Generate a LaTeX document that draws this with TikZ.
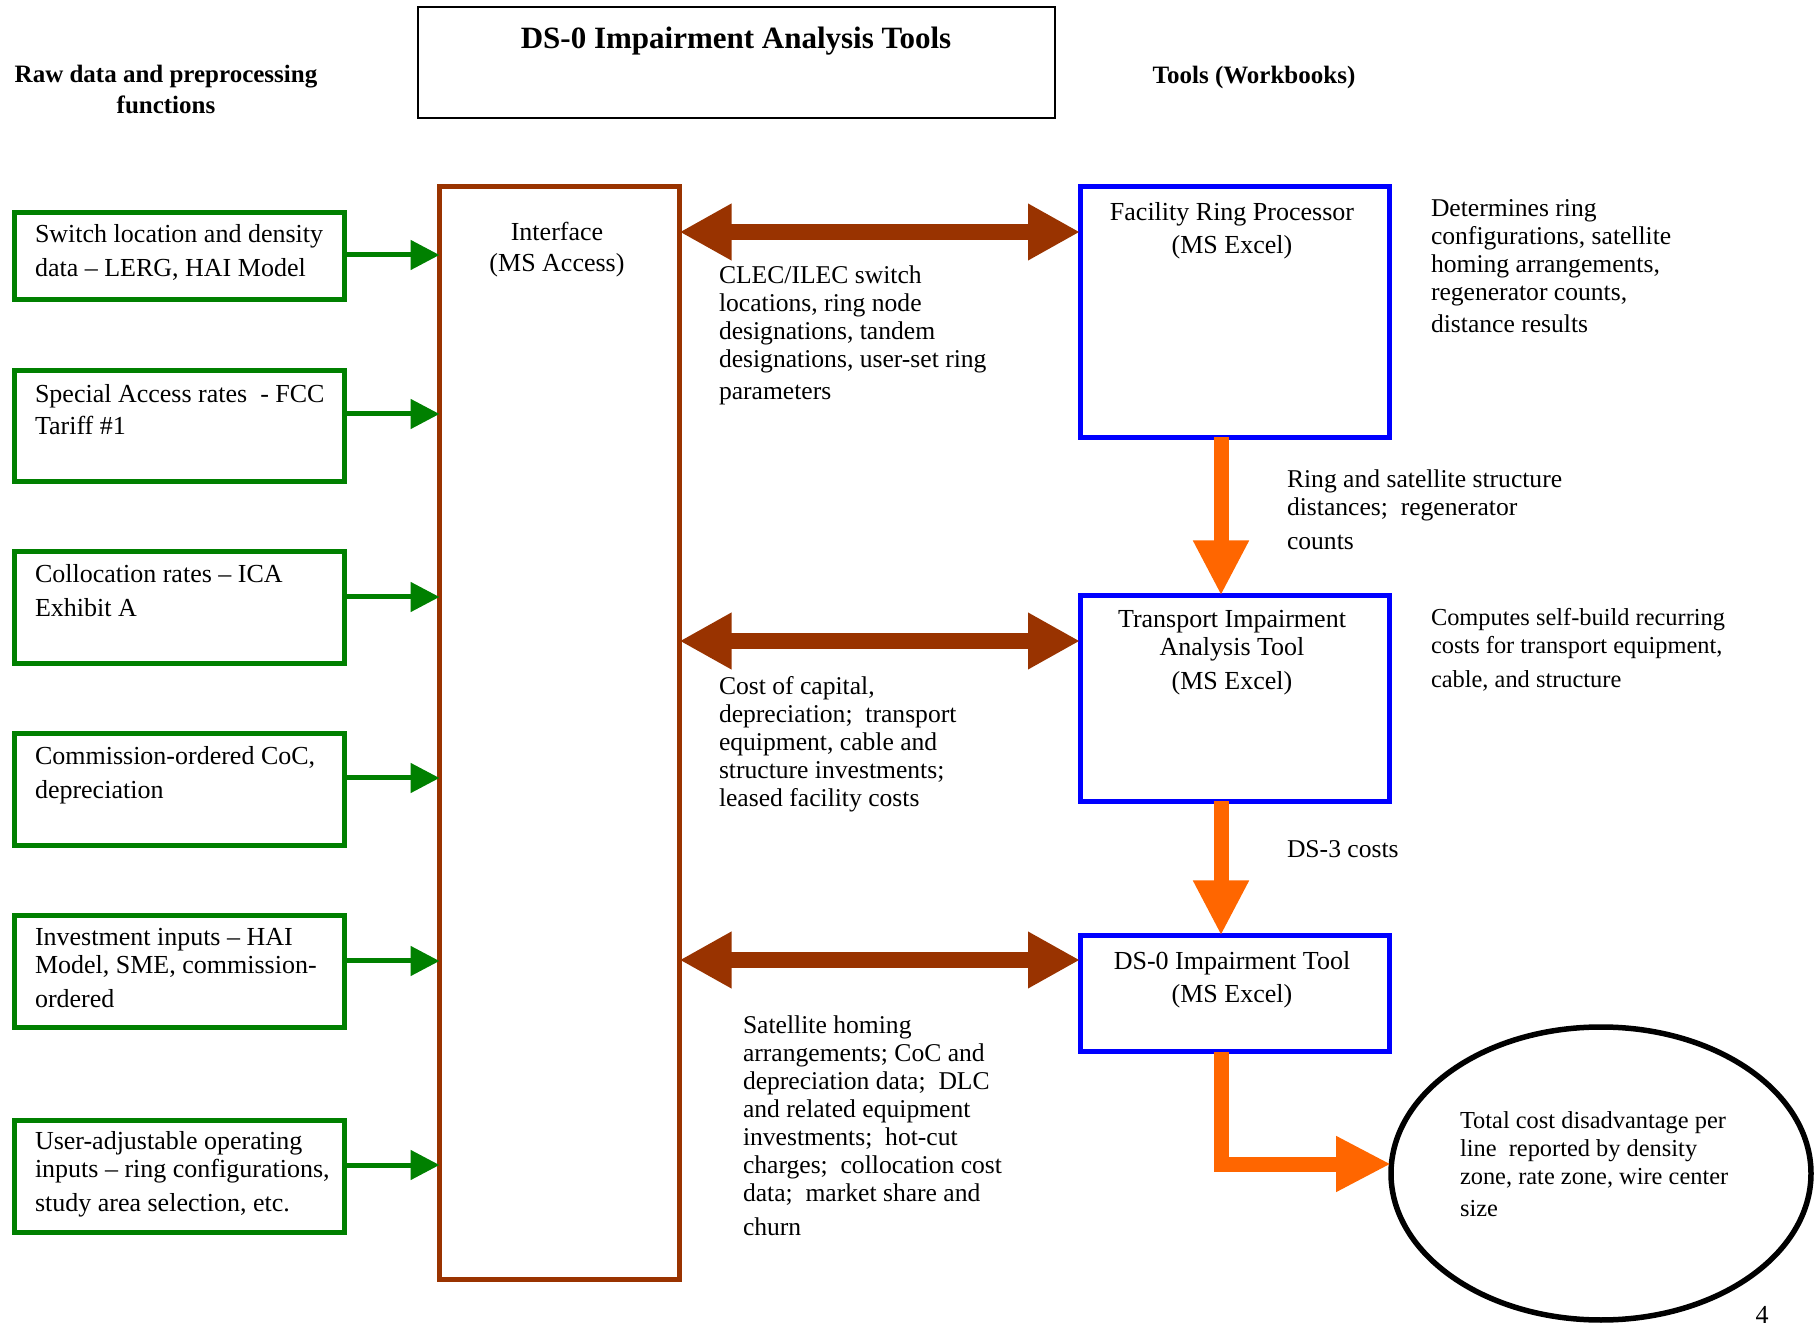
\documentclass[tikz,border=0pt]{standalone}
\usepackage{fontspec}
\setmainfont{Liberation Serif}
\usetikzlibrary{arrows.meta,calc,shapes.geometric}
\definecolor{grn}{RGB}{0,128,0}
\definecolor{brn}{RGB}{153,51,0}
\definecolor{blu}{RGB}{0,0,255}
\definecolor{org}{RGB}{255,102,0}
\begin{document}
\begin{tikzpicture}[x=0.5pt,y=-0.5pt,
  every node/.style={inner sep=0pt, outer sep=0pt},
  gbox/.style={draw=grn, line width=2.5pt, minimum width=165pt},
  bbox/.style={draw=blu, line width=2.5pt, minimum width=154.5pt},
  txt/.style={anchor=north west, align=left, font=\fontsize{13pt}{14pt}\selectfont},
  stxt/.style={anchor=north west, align=left, font=\fontsize{12.8pt}{14pt}\selectfont},
  ntxt/.style={anchor=north west, align=left, font=\fontsize{12.2pt}{14pt}\selectfont},
  ctxt/.style={anchor=north, align=center, font=\fontsize{13pt}{14pt}\selectfont},
  hdr/.style={font=\bfseries\fontsize{12.5pt}{15.5pt}\selectfont},
  garrow/.style={draw=grn, line width=2.5pt, -{Triangle[length=14.5pt,width=14.5pt]}},
  barrow/.style={draw=brn, line width=8pt, {Triangle[length=26pt,width=26.5pt]}-{Triangle[length=26pt,width=26.5pt]}},
  oarrow/.style={draw=org, line width=7.5pt, line join=miter, -{Triangle[length=27.5pt,width=26pt]}},
]
\useasboundingbox (0,0) rectangle (1816,1325);

% title and headers
\node[draw, line width=1pt, minimum width=318.5pt, minimum height=55.5pt] (title) at (736.5,62.5) {};
\node[anchor=base, font=\bfseries\fontsize{15.5pt}{18pt}\selectfont] (titletxt) at (736,49) {DS-0 Impairment Analysis Tools};
\node[hdr, anchor=north, align=center] (hleft) at (166,65) {Raw data and preprocessing\\functions};
\node[hdr, anchor=base] (hright) at (1254,84) {Tools (Workbooks)};

% green input boxes
\node[gbox, minimum height=43.5pt] (g1) at (179.5,256) {};
\node[gbox, minimum height=55.5pt] (g2) at (179.5,426) {};
\node[gbox, minimum height=56pt] (g3) at (179.5,607.5) {};
\node[gbox, minimum height=56pt] (g4) at (179.5,789.5) {};
\node[gbox, minimum height=56pt] (g5) at (179.5,971.5) {};
\node[gbox, minimum height=56pt] (g6) at (179.5,1176.5) {};

\node[txt] (g1t) at (35,224) {Switch location and density\\[3pt]data – LERG, HAI Model};
\node[txt] (g2t) at (35,384) {Special Access rates\ \ - FCC\\[2pt]Tariff \#1};
\node[txt] (g3t) at (35,564) {Collocation rates – ICA\\[3pt]Exhibit A};
\node[txt] (g4t) at (35,746) {Commission-ordered CoC,\\[3pt]depreciation};
\node[txt] (g5t) at (35,928) {Investment inputs – HAI\\Model, SME, commission-\\[3pt]ordered};
\node[txt] (g6t) at (35,1131) {User-adjustable operating\\inputs – ring configurations,\\[3pt]study area selection, etc.};

% interface
\node[draw=brn, line width=2.5pt, minimum width=120pt, minimum height=546.5pt] (iface) at (559.5,733) {};
\node[ctxt] (ifacet) at (557,222) {Interface\\[1.5pt](MS Access)};

% tool boxes
\node[bbox, minimum height=125.5pt] (frp) at (1234.5,312) {};
\node[bbox, minimum height=103pt] (tiat) at (1234.5,698.5) {};
\node[bbox, minimum height=58pt] (dso) at (1234.5,993.5) {};
\node[ctxt] (frpt) at (1232,202) {Facility Ring Processor\\[2.5pt](MS Excel)};
\node[ctxt] (tiatt) at (1232,610) {Transport Impairment\\Analysis Tool\\[3pt](MS Excel)};
\node[ctxt] (dsot) at (1232,951) {DS-0 Impairment Tool\\[2.5pt](MS Excel)};

% result ellipse
\node[draw, ellipse, line width=2.75pt, minimum width=210pt, minimum height=146.5pt] (ell) at (1601,1173.5) {};
\node[ntxt] (ellt) at (1460,1112) {Total cost disadvantage per\\line\ \ reported by density\\zone, rate zone, wire center\\[2pt]size};

% side texts
\node[stxt] (clec) at (719,266) {CLEC/ILEC switch\\locations, ring node\\designations, tandem\\designations, user-set ring\\[2pt]parameters};
\node[stxt] (det) at (1431,200) {Determines ring\\configurations, satellite\\homing arrangements,\\regenerator counts,\\[2pt]distance results};
\node[stxt] (ring) at (1287,470) {Ring and satellite structure\\distances;\ \ regenerator\\[3pt]counts};
\node[ntxt] (comp) at (1431,608) {Computes self-build recurring\\costs for transport equipment,\\[3pt]cable, and structure};
\node[stxt] (cost) at (719,676) {Cost of capital,\\depreciation;\ \ transport\\equipment, cable and\\structure investments;\\leased facility costs};
\node[stxt, anchor=base west] (ds3) at (1287,858) {DS-3 costs};
\node[stxt] (sat) at (743,1016) {Satellite homing\\arrangements; CoC and\\depreciation data;\ \ DLC\\and related equipment\\investments;\ \ hot-cut\\charges;\ \ collocation cost\\data;\ \ market share and\\[3pt]churn};
\node[anchor=base, font=\fontsize{13pt}{14pt}\selectfont] (pnum) at (1762,1323) {4};

% connectors
\draw[garrow] (g1.east |- 0,255) -- (iface.west |- 0,255);
\draw[garrow] (g2.east |- 0,414) -- (iface.west |- 0,414);
\draw[garrow] (g3.east |- 0,597) -- (iface.west |- 0,597);
\draw[garrow] (g4.east |- 0,778) -- (iface.west |- 0,778);
\draw[garrow] (g5.east |- 0,961) -- (iface.west |- 0,961);
\draw[garrow] (g6.east |- 0,1165) -- (iface.west |- 0,1165);

\draw[barrow] (iface.east |- 0,232) -- (frp.west |- 0,232);
\draw[barrow] (iface.east |- 0,641) -- (tiat.west |- 0,641);
\draw[barrow] (iface.east |- 0,960) -- (dso.west |- 0,960);

\draw[oarrow] ([xshift=-6.75pt]frp.south) -- ([xshift=-6.75pt]tiat.north);
\draw[oarrow] ([xshift=-6.75pt]tiat.south) -- ([xshift=-6.75pt]dso.north);
\draw[oarrow] ([xshift=-6.75pt]dso.south) |- (ell.west |- 0,1164);
\end{tikzpicture}
\end{document}
